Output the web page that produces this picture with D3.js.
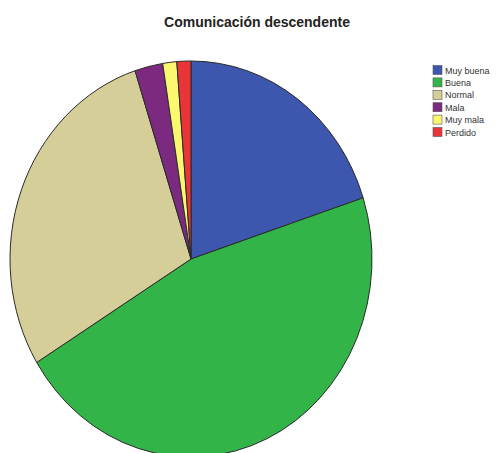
<!DOCTYPE html>
<html><head><meta charset="utf-8">
<script src="https://cdn.jsdelivr.net/npm/d3@7"></script>
<style>body{margin:0;background:#fff}</style>
</head><body>
<svg id="c" width="500" height="453"></svg>
<script>
const categories = ["Muy buena","Buena","Normal","Mala","Muy mala","Perdido"];
const values = [16, 37, 23, 2, 1, 1];
const colors = ["#3D56AE","#33B449","#D5CE98","#7B2A80","#FBF86F","#E93438"];
const title = "Comunicación descendente";

const svg = d3.select("#c");
const cx = 191, cy = 259, rx = 181, ry = 198;

svg.append("text").attr("x", 257).attr("y", 27).attr("text-anchor","middle")
  .attr("font-family","Liberation Sans, Arial, sans-serif").attr("font-size", 14)
  .attr("font-weight","bold").attr("fill","#222").text(title);

const data = categories.map((c,i)=>({cat:c, v:values[i], col:colors[i]}));
const pie = d3.pie().sort(null).value(d=>d.v);
const arc = d3.arc().innerRadius(0).outerRadius(rx);
const g = svg.append("g").attr("transform", `translate(${cx},${cy}) scale(1,${ry/rx})`);
g.selectAll("path").data(pie(data)).enter().append("path")
  .attr("d", arc).attr("fill", d=>d.data.col)
  .attr("stroke","#2a2a2a").attr("stroke-width",1)
  .attr("vector-effect","non-scaling-stroke");

const color = d3.scaleOrdinal().domain(categories).range(colors);
const ly = d3.scalePoint().domain(categories).range([70, 132]);
const lg = svg.append("g");
const items = lg.selectAll("g").data(categories).enter().append("g")
  .attr("transform", d=>`translate(433,${ly(d)})`);
items.append("rect").attr("x",0).attr("y",-4.5).attr("width",9).attr("height",9)
  .attr("fill", d=>color(d)).attr("stroke","#555").attr("stroke-width",0.6);
items.append("text").attr("x",12).attr("y",3.5).attr("font-family","Liberation Sans, Arial, sans-serif")
  .attr("font-size",9).attr("fill","#333").text(d=>d);
</script>
</body></html>
